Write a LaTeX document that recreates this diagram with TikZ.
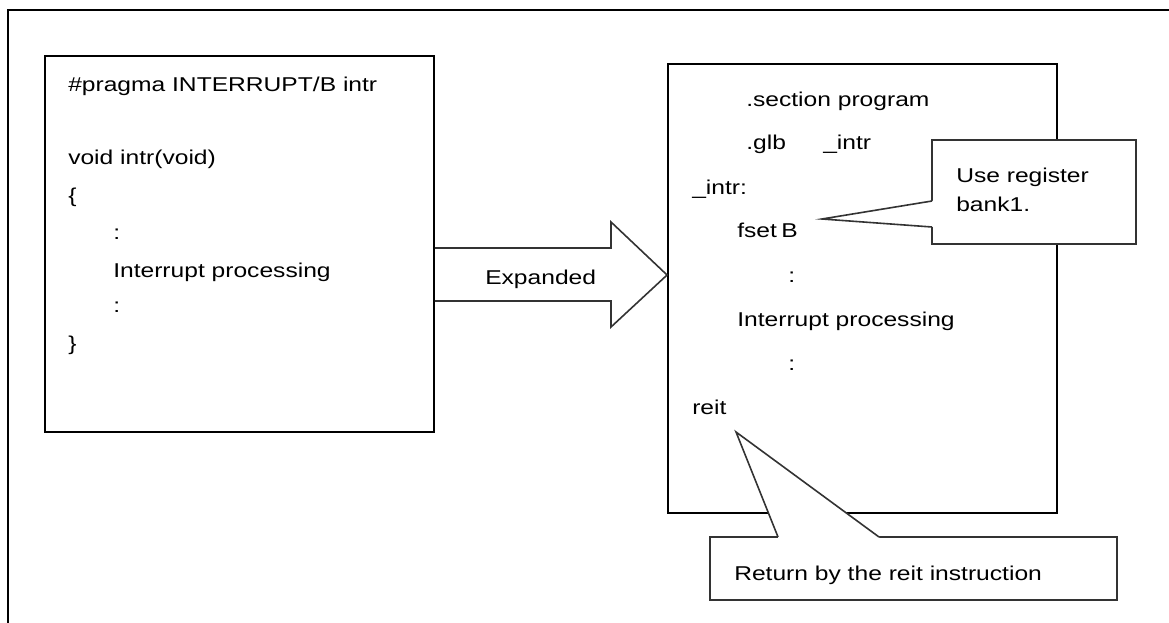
\documentclass[tikz,border=0pt]{standalone}
\usepackage{fontspec}
\setmainfont{Liberation Sans}[FakeStretch=1.23]
\newlength{\pxu}
\setlength{\pxu}{0.75pt}

\begin{document}
\begin{tikzpicture}[x=0.75pt, y=-0.75pt, every node/.style={font=\fontsize{15}{18}\selectfont},
		codebox/.style={draw, line width=1.4pt, minimum width=389\pxu},
		note/.style={draw=black!80, fill=white, line width=1.2pt},
		txt/.style={anchor=base west, inner sep=0pt}]
		\useasboundingbox (0,0) rectangle (1169,623);
		\draw[line width=2pt] (1169,10) -- (8,10) -- (8,623);
		
		\node[codebox, minimum height=376\pxu] (src) at (239.5,244) {};
		\node[codebox, minimum height=449\pxu] (asm) at (862.5,288.5) {};
		
		\foreach \x/\y/\v [count=\i] in {68/92/{\#pragma INTERRUPT/B intr}, 68/165/{void intr(void)}, 68/203/\{, 113/240/:, 113/277/{Interrupt processing}, 113/312/:, 68/350/\}}
			\node[txt] (src\i) at (\x,\y) {\v};
		\foreach \x/\y/\v [count=\i] in {746/107/{.section program}, 746/150/.glb, 823/150/\_intr, 692/195/\_intr:, 737/238/fset, 781/238/B, 788/282/:, 737/326/{Interrupt processing}, 788/370/:, 692/414/reit}
			\node[txt] (asm\i) at (\x,\y) {\v};
		
		\draw[draw=black!80, line width=1.2pt] (src.east |- 0,248) -- (611,248) -- (611,222) -- (asm.west |- 0,275) -- (611,327) -- (611,301) -- (src.east |- 0,301);
		\node[txt] (expanded) at (485,285) {Expanded};
		
		\coordinate (fsettip) at (822,219);
		\node[note, minimum width=204\pxu, minimum height=104\pxu] (bank) at (1034,192) {};
		\fill[white] (932,201) -- (fsettip) -- (932,227) -- (933.8,227) -- (933.8,201) -- cycle;
		\draw[note] (932,201) -- (fsettip) -- (932,227);
		\node[txt] (bank1) at (956,183) {Use register};
		\node[txt] (bank2) at (956,212) {bank1.};
		
		\coordinate (reittip) at (736,432);
		\node[note, minimum width=407\pxu, minimum height=63\pxu] (ret) at (913.5,568.5) {};
		\fill[white] (778,537) -- (reittip) -- (879,537) -- (879,538.8) -- (778,538.8) -- cycle;
		\draw[note] (778,537) -- (reittip) -- (879,537);
		\node[txt] (ret1) at (734,580) {Return by the reit instruction};
	\end{tikzpicture}
\end{document}
